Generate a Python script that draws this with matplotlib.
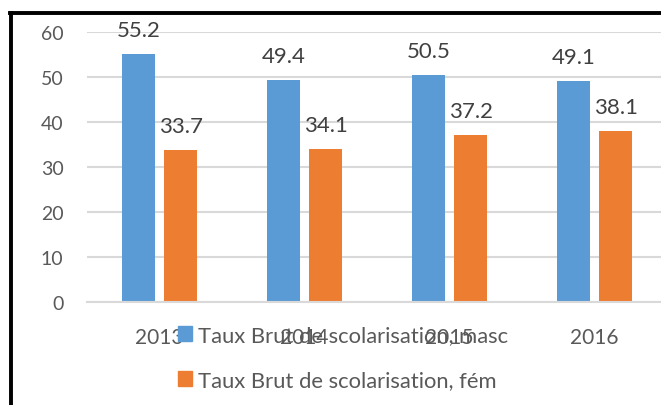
import matplotlib
matplotlib.use('Agg')
import matplotlib.pyplot as plt
from matplotlib.patches import Patch
from matplotlib.lines import Line2D
import numpy as np

# Data
years = ['2013', '2014', '2015', '2016']
masc = [55.2, 49.4, 50.5, 49.1]
fem = [33.7, 34.1, 37.2, 38.1]
series_names = ['Taux Brut de scolarisation, masc',
                'Taux Brut de scolarisation, fém']
yticks = [0, 10, 20, 30, 40, 50, 60]

BLUE = '#5B9BD5'
ORANGE = '#ED7D31'
W, H = 661, 406

plt.rcParams['font.family'] = ['Lato', 'DejaVu Sans']

fig = plt.figure(figsize=(W / 100, H / 100), dpi=100)
# plot area runs past the right edge, as in the cropped original
ax = fig.add_axes([87 / W, 103 / H, 580 / W, 270 / H])

x = np.arange(len(years))
bw = 0.227
off = 0.145
b1 = ax.bar(x - off, masc, bw, color=BLUE, zorder=2)
b2 = ax.bar(x + off, fem, bw, color=ORANGE, zorder=2)

# value labels
for bars, vals in ((b1, masc), (b2, fem)):
    for rect, v in zip(bars, vals):
        ax.annotate('{:.1f}'.format(v),
                    (rect.get_x() + rect.get_width() / 2, v),
                    xytext=(0, 24), textcoords='offset pixels',
                    ha='center', va='center', fontsize=16,
                    color='#404040', zorder=3)

ax.set_xlim(-0.5, 3.5)
ax.set_ylim(0, 60)
ax.set_yticks(yticks)
ax.set_xticks(x)
ax.set_xticklabels(years)
ax.yaxis.grid(True, color='#D9D9D9', lw=1.5, zorder=0)
ax.set_axisbelow(True)
for s in ['top', 'right', 'left']:
    ax.spines[s].set_visible(False)
ax.spines['bottom'].set_color('#D9D9D9')
ax.spines['bottom'].set_linewidth(1.5)
ax.tick_params(axis='both', length=0, colors='#595959')
ax.tick_params(axis='y', labelsize=14, pad=17)
ax.tick_params(axis='x', labelsize=15, pad=18)

# legend, overlapping the year labels like in the original
handles = [Patch(color=BLUE), Patch(color=ORANGE)]
fig.legend(handles, series_names, loc='upper left',
           bbox_to_anchor=(167 / W, 1 - 315 / H), frameon=False,
           fontsize=15.8, labelcolor='#595959', handlelength=0.64,
           handleheight=0.64, handletextpad=0.28, labelspacing=1.15,
           borderpad=0)

# black frame (left and top sides visible)
fig.add_artist(Line2D([11 / W, 11 / W], [0, 1 - 13.5 / H], color='black',
                      lw=2.8, transform=fig.transFigure))
fig.add_artist(Line2D([9.6 / W, 1], [1 - 13.5 / H, 1 - 13.5 / H],
                      color='black', lw=2.8, transform=fig.transFigure))

fig.savefig('out.png', dpi=100)
